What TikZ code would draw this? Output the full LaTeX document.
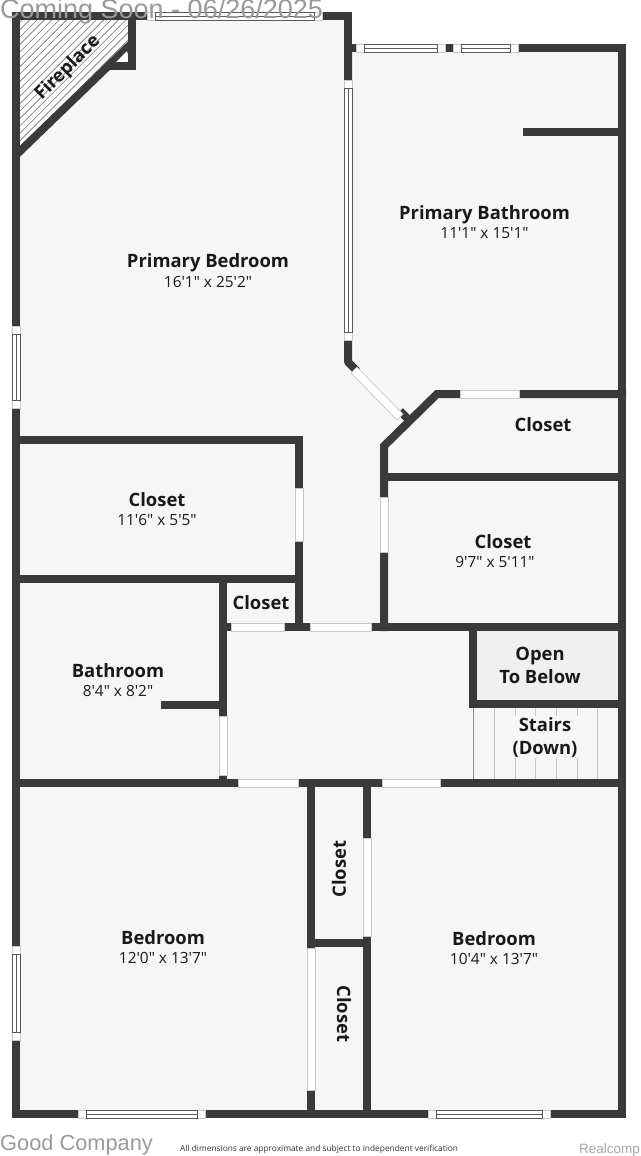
\documentclass[tikz,border=0pt]{standalone}
\usepackage{fontspec}
\setmainfont{Open Sans}
\newfontfamily\dimfont{Open Sans}
\newfontfamily\markfont{Liberation Sans}
\definecolor{wallc}{HTML}{3A3A3A}
\definecolor{floorc}{HTML}{F6F6F6}
\definecolor{openc}{HTML}{F0F0F0}
\definecolor{edgec}{HTML}{C8C8C8}
\definecolor{markc}{HTML}{9A9A9A}
\tikzset{
  wall/.style={draw=wallc,line width=8pt,line cap=rect,line join=miter},
  title/.style={font=\fontsize{18.4}{21}\selectfont\bfseries,text=black!90,align=center,inner sep=0pt},
  dims/.style={font=\dimfont\fontsize{15.4}{18}\selectfont,text=black!90,align=center,inner sep=0pt},
  gap/.style={fill=white,draw=edgec,line width=0.7pt},
  glass/.style={draw=black!65,line width=0.7pt},
  tread/.style={draw=black!22,line width=0.8pt}
}
% plain openings
\newcommand{\gaph}[3]{\path[gap] (#1,#3-4) rectangle (#2,#3+4);}
\newcommand{\gapv}[3]{\path[gap] (#3-4,#1) rectangle (#3+4,#2);}
% glazed windows
\newcommand{\winh}[3]{\path[gap] (#1,#3-4) rectangle (#2,#3+4);
  \draw[glass] (#1+8,#3-4) rectangle (#2-8,#3+4) (#1+8,#3) -- (#2-8,#3);}
\newcommand{\winv}[3]{\path[gap] (#3-4,#1) rectangle (#3+4,#2);
  \draw[glass] (#3-4,#1+8) rectangle (#3+4,#2-8) (#3,#1+8) -- (#3,#2-8);}
\begin{document}
\begin{tikzpicture}[x=1pt,y=-1pt]
\useasboundingbox (0,0) rectangle (640,1156);
\fill[white] (0,0) rectangle (640,1156);
% floor
\fill[floorc] (16,16) -- (348,16) -- (348,48) -- (622,48) -- (622,1114) -- (16,1114) -- cycle;
\fill[openc] (473,627) rectangle (622,704);
% fireplace hatching
\fill[white] (16,16) -- (131,16) -- (131,44) -- (16,155) -- cycle;
\begin{scope}
  \clip (20,20) -- (128,20) -- (128,41) -- (20,146) -- cycle;
  \foreach \k in {0,7.4,...,260} {\draw[black!55,line width=0.6pt] (\k,20) -- (\k-140,160);}
\end{scope}
% stairs
\foreach \sx in {494.5,515,535.5,556,577,597} {\draw[tread] (\sx,708) -- (\sx,780);}
\draw[black!45,line width=0.9pt] (473.5,708) -- (473.5,780);
% walls
\draw[wall] (16,1114) -- (16,16) -- (348,16) -- (348,48) -- (622,48) -- (622,1114) -- cycle;
\draw[wall,line cap=butt] (16,155) -- (131,44);
\draw[wall,line cap=butt] (131.5,20) -- (131.5,66.5) -- (107,66.5);
\fill[white] (127,51) -- (127,62) -- (116,62) -- cycle;
\draw[wall] (527,132) -- (618,132);
\draw[wall,line join=bevel,line cap=butt] (348,48) -- (348,362) -- (357,371);
\draw[wall,line cap=butt] (400,411) -- (409,420);
\draw[wall,line join=miter] (622,394) -- (437,394) -- (384,446) -- (384,627);
\draw[wall] (384,477) -- (622,477);
\draw[wall] (16,440) -- (299,440) -- (299,627);
\draw[wall] (16,579) -- (299,579);
\draw[wall] (223,579) -- (223,783);
\draw[wall] (223,627) -- (622,627);
\draw[wall] (473,627) -- (473,704) -- (622,704);
\draw[wall] (165,705) -- (223,705);
\draw[wall] (16,783) -- (622,783);
\draw[wall] (311,783) -- (311,1114);
\draw[wall] (367,783) -- (367,1114);
\draw[wall] (311,943) -- (367,943);
% openings and windows
\winh{147}{322}{16}
\winh{356}{445}{48}
\winh{453}{518}{48}
\winv{80}{340}{348}
\winv{326}{408}{16}
\winv{946}{1040}{16}
\winh{78}{205}{1114}
\winh{428}{550}{1114}
\gaph{460}{519}{394}
\gapv{488}{541}{299}
\gapv{497}{552}{384}
\gaph{231}{284}{627}
\gaph{310}{371}{627}
\gapv{716}{775}{223}
\gaph{238}{298}{783}
\gaph{382}{440}{783}
\gapv{838}{936}{367}
\gapv{948}{1090}{311}
\path[gap] (357,367) -- (403,414) -- (397,420) -- (351,373) -- cycle;
% labels
\node[title,rotate=45] (fp) at (68,68) {Fireplace};
\node[title] (pbed) at (208,263) {Primary Bedroom};
\node[dims] (pbeddim) at (208,282) {16'1" x 25'2"};
\node[title] (pbath) at (484.5,215) {Primary Bathroom};
\node[dims] (pbathdim) at (484.5,233) {11'1" x 15'1"};
\node[title] (c1) at (543,425) {Closet};
\node[title] (c2) at (157,500) {Closet};
\node[dims] (c2dim) at (157,520) {11'6" x 5'5"};
\node[title] (c3) at (503,542) {Closet};
\node[dims] (c3dim) at (495,562) {9'7" x 5'11"};
\node[title] (c4) at (261,603) {Closet};
\node[title] (bath) at (118,671) {Bathroom};
\node[dims] (bathdim) at (118,691) {8'4" x 8'2"};
\node[title] (open) at (540,665) {Open\\[2pt]To Below};
\node[title,fill=floorc,inner sep=1pt] (stairs) at (545,737) {Stairs\\[2pt](Down)};
\node[title] (bed1) at (163,938) {Bedroom};
\node[dims] (bed1dim) at (163,958) {12'0" x 13'7"};
\node[title] (bed2) at (494,939) {Bedroom};
\node[dims] (bed2dim) at (494,959) {10'4" x 13'7"};
\node[title,rotate=90] (c5) at (339,869) {Closet};
\node[title,rotate=-90] (c6) at (344,1014) {Closet};
% marks
\node[font=\markfont\fontsize{27}{27}\selectfont,text=markc,inner sep=0pt,anchor=base west] (soon) at (0,19) {Coming Soon - 06/26/2025};
\node[font=\markfont\fontsize{21.8}{24}\selectfont,text=markc,inner sep=0pt,anchor=base west] (good) at (0,1150) {Good Company};
\node[font=\fontsize{8.35}{10}\selectfont,text=black!80,inner sep=0pt,anchor=base west] (note) at (180,1151) {All dimensions are approximate and subject to independent verification};
\node[font=\markfont\fontsize{13.5}{15}\selectfont,text=black!35,inner sep=0pt,anchor=base east] (rc) at (640,1153) {Realcomp};
\end{tikzpicture}
\end{document}
